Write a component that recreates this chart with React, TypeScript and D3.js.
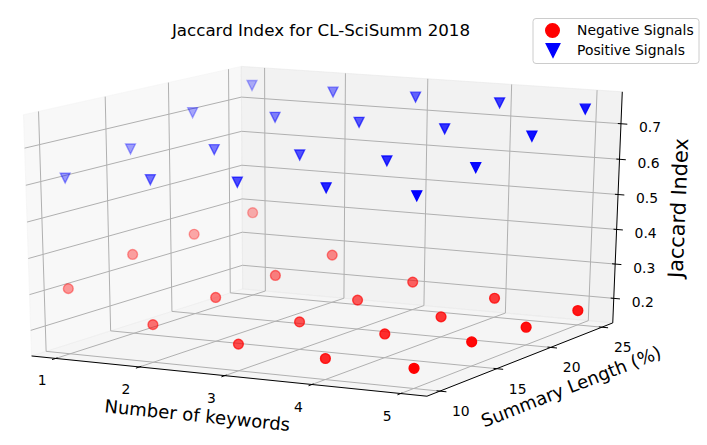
import React from 'react';
import * as d3 from 'd3';

// ---------------- data ----------------
const keywords = [1, 2, 3, 4, 5];
const summaryLengths = [10, 15, 20, 25];
// rows: number of keywords 1..5, columns: summary length 10,15,20,25
const negativeSignals = [
  [0.311, 0.354, 0.361, 0.375],
  [0.233, 0.253, 0.262, 0.269],
  [0.202, 0.206, 0.212, 0.210],
  [0.186, 0.195, 0.186, 0.184],
  [0.183, 0.196, 0.179, 0.170],
];
const positiveSignals = [
  [0.615, 0.650, 0.709, 0.747],
  [0.629, 0.666, 0.713, 0.744],
  [0.641, 0.669, 0.716, 0.746],
  [0.645, 0.671, 0.715, 0.746],
  [0.643, 0.671, 0.712, 0.745],
];
const xTickValues = [1, 2, 3, 4, 5];
const yTickValues = [10, 15, 20, 25];
const zTickValues = [0.2, 0.3, 0.4, 0.5, 0.6, 0.7];

const W = 707;
const H = 445;
const FONT = "'DejaVu Sans', Verdana, sans-serif";

// Frame anchors: where the corners of the unit pane box land on screen (layout of the 3D frame)
const frameAnchors: [number[], number[]][] = [
  [[0, 0, 0], [32, 355]],
  [[1, 0, 0], [427, 397]],
  [[1, 1, 0], [613, 322]],
  [[0, 1, 0], [242, 290]],
  [[0, 1, 1], [242, 66]],
  [[0, 0, 1], [23, 115]],
  [[1, 1, 1], [622, 92]],
];

function solveLinear(A: number[][], b: number[]): number[] {
  const n = b.length;
  const M = A.map((row, i) => [...row, b[i]]);
  for (let c = 0; c < n; c++) {
    let p = c;
    for (let r = c + 1; r < n; r++) if (Math.abs(M[r][c]) > Math.abs(M[p][c])) p = r;
    const tmp = M[c]; M[c] = M[p]; M[p] = tmp;
    for (let r = 0; r < n; r++) {
      if (r === c) continue;
      const f = M[r][c] / M[c][c];
      for (let k = c; k <= n; k++) M[r][k] -= f * M[c][k];
    }
  }
  return M.map((row, i) => row[n] / row[i]);
}

const NX = 320, NY = 230, NS = 300;
function fitCamera(pairs: [number[], number[]][]) {
  const rows: number[][] = [];
  const rhs: number[] = [];
  for (const [[X0, Y0, Z0], [px, py]] of pairs) {
    const X = X0 - 0.5, Y = Y0 - 0.5, Z = Z0 - 0.5;
    const x = (px - NX) / NS, y = (py - NY) / NS;
    rows.push([X, Y, Z, 1, 0, 0, 0, 0, -x * X, -x * Y, -x * Z]); rhs.push(x);
    rows.push([0, 0, 0, 0, X, Y, Z, 1, -y * X, -y * Y, -y * Z]); rhs.push(y);
  }
  const n = 11;
  const A = Array.from({ length: n }, () => new Array(n).fill(0));
  const b = new Array(n).fill(0);
  rows.forEach((r, k) => {
    for (let i = 0; i < n; i++) {
      b[i] += r[i] * rhs[k];
      for (let j = 0; j < n; j++) A[i][j] += r[i] * r[j];
    }
  });
  return solveLinear(A, b);
}
const P = fitCamera(frameAnchors);
function proj(u: number, v: number, w: number): [number, number, number] {
  const X = u - 0.5, Y = v - 0.5, Z = w - 0.5;
  const d = P[8] * X + P[9] * Y + P[10] * Z + 1;
  const x = (P[0] * X + P[1] * Y + P[2] * Z + P[3]) / d;
  const y = (P[4] * X + P[5] * Y + P[6] * Z + P[7]) / d;
  return [x * NS + NX, y * NS + NY, d];
}

// matplotlib-like limits: 5% margin then pane box padded by 1/48 of range
function boxDomain(vals: number[]): [number, number] {
  const [a, b] = d3.extent(vals) as [number, number];
  const m = (b - a) * 0.05;
  const lo = a - m, hi = b + m;
  const e = (hi - lo) / 48;
  return [lo - e, hi + e];
}
const sx = d3.scaleLinear().domain(boxDomain(keywords)).range([0, 1]);
const sy = d3.scaleLinear().domain(boxDomain(summaryLengths)).range([0, 1]);
const sz = d3.scaleLinear()
  .domain(boxDomain([...negativeSignals.flat(), ...positiveSignals.flat()]))
  .range([0, 1]);

const line = d3.line<[number, number, number]>().x(d => d[0]).y(d => d[1]);
const path3 = (pts: number[][]) => line(pts.map(p => proj(p[0], p[1], p[2]))) || '';

const farSign = Math.sign(proj(0, 1, 1)[2] - proj(1, 0, 0)[2]) || 1;

type Pt = { x: number; y: number; depth: number; alpha: number };
function buildPoints(series: number[][]): Pt[] {
  const raw: { x: number; y: number; depth: number; s: number }[] = [];
  keywords.forEach((k, i) => {
    summaryLengths.forEach((l, j) => {
      const u = sx(k), v = sy(l), w = sz(series[i][j]);
      const [x, y, d] = proj(u, v, w);
      raw.push({ x, y, depth: d * farSign, s: u - 0.15 * v });
    });
  });
  const ext = d3.extent(raw, r => r.s) as [number, number];
  const norm = d3.scaleLinear().domain(ext).range([0.3, 1]);
  return raw
    .map(r => ({ x: r.x, y: r.y, depth: r.depth, alpha: norm(r.s) }))
    .sort((a, b) => b.depth - a.depth);
}
const negPts = buildPoints(negativeSignals);
const posPts = buildPoints(positiveSignals);

const R = 4.91; // marker half-size (s=50)
const triPath = (h: number) => `M${-h},${-h}L${h},${-h}L0,${h}Z`;

function angleOf(a: number[], b: number[]) {
  const p = proj(a[0], a[1], a[2]);
  const q = proj(b[0], b[1], b[2]);
  let ang = (Math.atan2(q[1] - p[1], q[0] - p[0]) * 180) / Math.PI;
  if (ang > 90) ang -= 180;
  if (ang < -90) ang += 180;
  return ang;
}
// label placed at a projected anchor plus a screen offset (px)
function anchorAt(u: number, v: number, w: number, dx: number, dy: number): [number, number] {
  const p = proj(u, v, w);
  return [p[0] + dx, p[1] + dy];
}

const GRID = '#b0b0b0';
const TIN = 0.008, TOUT = 0.016;

export default function App() {
  const panes = [
    { pts: [[0, 0, 0], [0, 1, 0], [0, 1, 1], [0, 0, 1]], c: 'rgb(242,242,242)' },
    { pts: [[0, 1, 0], [1, 1, 0], [1, 1, 1], [0, 1, 1]], c: 'rgb(230,230,230)' },
    { pts: [[0, 0, 0], [1, 0, 0], [1, 1, 0], [0, 1, 0]], c: 'rgb(236,236,236)' },
  ];
  const xl = anchorAt(0.5, 0, 0, -27.5, 39.5);
  const yl = anchorAt(1, 0.5, 0, 47, 28.5);
  const zl = anchorAt(1, 1, 0.5, 60.5, -1);
  const xAng = angleOf([0, 0, 0], [1, 0, 0]);
  const yAng = angleOf([1, 0, 0], [1, 1, 0]);
  const zAng = angleOf([1, 1, 0], [1, 1, 1]);

  return (
    <svg width={W} height={H} style={{ position: 'absolute', left: 0, top: 0, background: '#fff' }} fontFamily={FONT}>
      <rect x={0} y={0} width={W} height={H} fill="#fff" />
      {/* panes */}
      {panes.map((p, i) => (
        <path key={i} d={path3(p.pts) + 'Z'} fill={p.c} fillOpacity={0.5} stroke={p.c} strokeOpacity={0.5} strokeWidth={1} />
      ))}
      {/* grid lines */}
      <g fill="none" stroke={GRID} strokeWidth={1}>
        {xTickValues.map(t => {
          const u = sx(t);
          return <path key={'gx' + t} d={path3([[u, 0, 0], [u, 1, 0], [u, 1, 1]])} />;
        })}
        {yTickValues.map(t => {
          const v = sy(t);
          return <path key={'gy' + t} d={path3([[1, v, 0], [0, v, 0], [0, v, 1]])} />;
        })}
        {zTickValues.map(t => {
          const w = sz(t);
          return <path key={'gz' + t} d={path3([[0, 0, w], [0, 1, w], [1, 1, w]])} />;
        })}
      </g>
      {/* axis lines and ticks */}
      <g fill="none" stroke="#000" strokeWidth={1}>
        <path d={path3([[0, 0, 0], [1, 0, 0]])} />
        <path d={path3([[1, 0, 0], [1, 1, 0]])} />
        <path d={path3([[1, 1, 0], [1, 1, 1]])} />
        {xTickValues.map(t => {
          const u = sx(t);
          return <path key={'tx' + t} d={path3([[u, TIN, 0], [u, -TOUT, 0]])} />;
        })}
        {yTickValues.map(t => {
          const v = sy(t);
          return <path key={'ty' + t} d={path3([[1 - TIN, v, 0], [1 + TOUT, v, 0]])} />;
        })}
        {zTickValues.map(t => {
          const w = sz(t);
          return <path key={'tz' + t} d={path3([[1 - TIN, 1, w], [1 + TOUT, 1, w]])} />;
        })}
      </g>
      {/* tick labels */}
      <g fontSize={13.9} fill="#000" textAnchor="middle">
        {xTickValues.map(t => {
          const [x, y] = anchorAt(sx(t), 0, 0, -13.5, 22);
          return <text key={'lx' + t} x={x} y={y} dy="0.36em">{d3.format('d')(t)}</text>;
        })}
        {yTickValues.map(t => {
          const [x, y] = anchorAt(1, sy(t), 0, 21, 20);
          return <text key={'ly' + t} x={x} y={y} dy="0.36em">{d3.format('d')(t)}</text>;
        })}
        {zTickValues.map(t => {
          const [x, y] = anchorAt(1, 1, sz(t), 29, 3.5);
          return <text key={'lz' + t} x={x} y={y} dy="0.36em">{d3.format('.1f')(t)}</text>;
        })}
      </g>
      {/* axis labels */}
      <g fill="#000" textAnchor="middle">
        <text fontSize={18} transform={`translate(${xl[0]},${xl[1]}) rotate(${xAng})`} dy="0.36em">Number of keywords</text>
        <text fontSize={18} transform={`translate(${yl[0]},${yl[1]}) rotate(${yAng})`} dy="0.36em">Summary Length (%)</text>
        <text fontSize={20.8} transform={`translate(${zl[0]},${zl[1]}) rotate(${zAng})`} dy="0.36em">Jaccard Index</text>
      </g>
      {/* points */}
      <g>
        {negPts.map((p, i) => (
          <circle key={'n' + i} cx={p.x} cy={p.y} r={R} fill="#ff0000" fillOpacity={p.alpha}
            stroke="#ff0000" strokeOpacity={p.alpha} strokeWidth={1.39} />
        ))}
      </g>
      <g>
        {posPts.map((p, i) => (
          <path key={'p' + i} d={triPath(R)} transform={`translate(${p.x},${p.y})`} fill="#0000ff" fillOpacity={p.alpha}
            stroke="#0000ff" strokeOpacity={p.alpha} strokeWidth={1.39} />
        ))}
      </g>
      {/* title */}
      <text x={321} y={36} textAnchor="middle" fontSize={16.7} fill="#000">Jaccard Index for CL-SciSumm 2018</text>
      {/* legend */}
      <g>
        <rect x={533} y={18.5} width={166} height={45} rx={3} fill="#fff" fillOpacity={0.8} stroke="#cccccc" strokeWidth={1} />
        <circle cx={552.5} cy={30.5} r={6.8} fill="#ff0000" stroke="#ff0000" strokeWidth={1.39} />
        <path d={triPath(6.8)} transform="translate(553,50.5)" fill="#0000ff" stroke="#0000ff" strokeWidth={1.39} />
        <text x={577} y={35} fontSize={13.9} fill="#000">Negative Signals</text>
        <text x={577} y={54.5} fontSize={13.9} fill="#000">Positive Signals</text>
      </g>
    </svg>
  );
}
